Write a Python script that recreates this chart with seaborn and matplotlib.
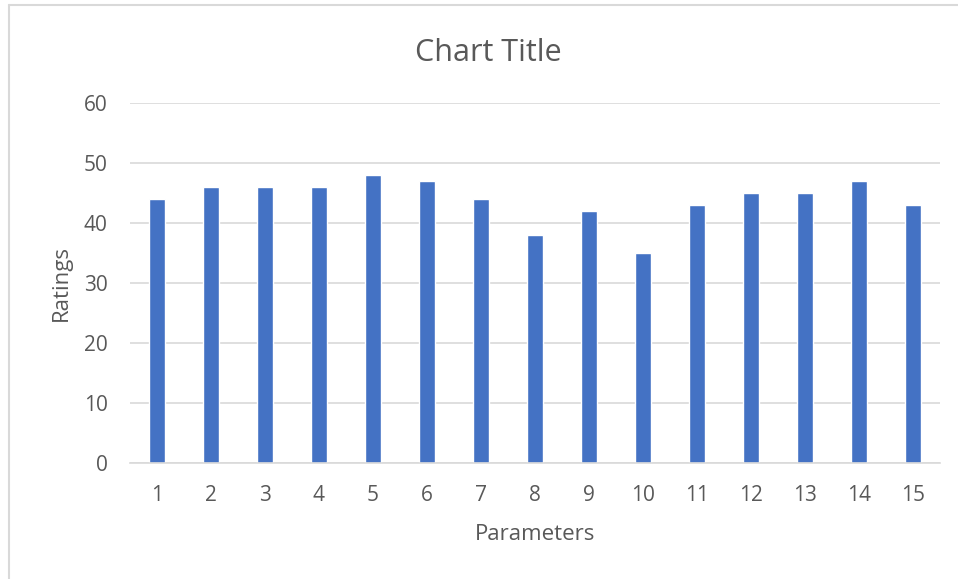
import matplotlib
matplotlib.use("Agg")
import matplotlib.pyplot as plt
import pandas as pd
import seaborn as sns

parameters = [str(i) for i in range(1, 16)]
ratings = [44, 46, 46, 46, 48, 47, 44, 38, 42, 35, 43, 45, 45, 47, 43]
y_ticks = [0, 10, 20, 30, 40, 50, 60]

df = pd.DataFrame({"Parameters": parameters, "Ratings": ratings})

sns.set_theme(style="white")
plt.rcParams['font.family'] = ['Open Sans', 'DejaVu Sans']

fig = plt.figure(figsize=(9.58, 5.79), dpi=100)
ax = fig.add_axes([0.1357, 0.2003, 0.8455, 0.6218])

sns.barplot(data=df, x="Parameters", y="Ratings", color="#4472C4",
            width=0.31, saturation=1, ax=ax)

ax.set_ylim(0, 60)
ax.set_yticks(y_ticks)
ax.set_xlim(-0.5, len(parameters) - 0.5)
ax.yaxis.grid(True, color="#D9D9D9", linewidth=1.2)
ax.set_axisbelow(True)
for s in ["top", "right", "left"]:
    ax.spines[s].set_visible(False)
ax.spines["bottom"].set_color("#D9D9D9")
ax.spines["bottom"].set_linewidth(1.2)
ax.tick_params(axis="both", length=0, labelsize=15, labelcolor="#595959")
ax.tick_params(axis="x", pad=16)
ax.tick_params(axis="y", pad=16)

ax.set_xlabel("Parameters", fontsize=16, color="#595959", labelpad=13)
ax.set_ylabel("Ratings", fontsize=16, color="#595959", labelpad=9)
fig.text(0.510, 0.908, "Chart Title", fontsize=22, color="#595959",
         ha="center", va="center")

# chart frame (only left and top edges are visible in the crop)
fig.add_artist(plt.Line2D([0.009, 0.009], [0, 0.992], color="#D9D9D9",
                          linewidth=1.5, transform=fig.transFigure))
fig.add_artist(plt.Line2D([0.009, 1], [0.992, 0.992], color="#D9D9D9",
                          linewidth=1.5, transform=fig.transFigure))

fig.savefig("out.png", dpi=100)
